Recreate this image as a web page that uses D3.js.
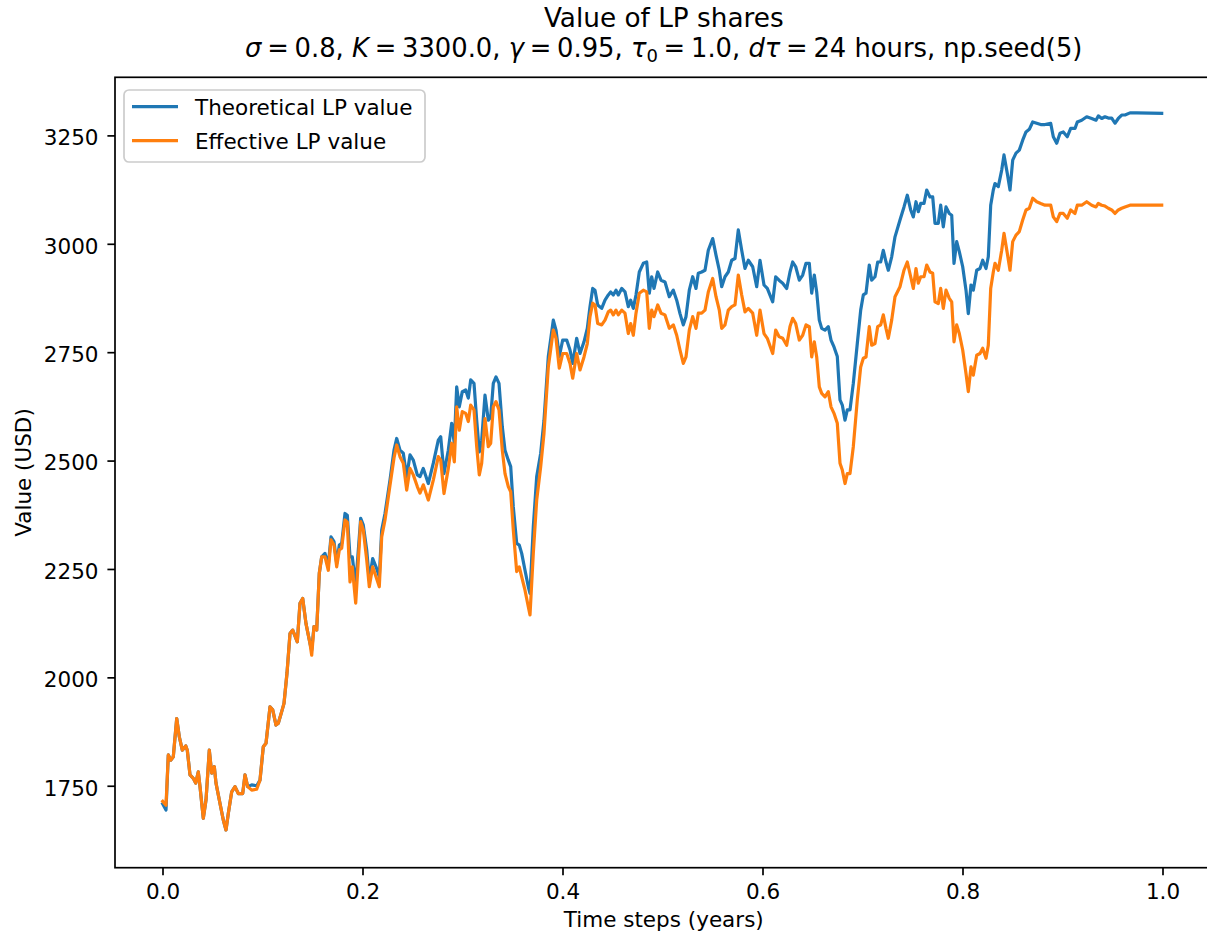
<!DOCTYPE html>
<html>
<head>
<meta charset="utf-8">
<script src="https://cdn.jsdelivr.net/npm/d3@7"></script>
<style>
  html, body { margin: 0; padding: 0; background: #fff; }
  svg { display: block; font-family: "DejaVu Sans", sans-serif; }
</style>
</head>
<body>
<svg id="chart" width="1207" height="936"></svg>
<script>
// ---- data ----
const timeYears = [
  0.0002,0.0035,0.0058,0.0082,0.0108,0.0142,0.0168,0.0198,0.0232,0.0248,
  0.0275,0.0308,0.0332,0.0358,0.0375,0.0408,0.0435,0.0468,0.0492,0.0518,
  0.0535,0.0575,0.0608,0.0635,0.0658,0.0692,0.0725,0.0758,0.0802,0.0825,
  0.0852,0.0892,0.0942,0.0975,0.1008,0.1035,0.1075,0.1102,0.1135,0.1158,
  0.1192,0.1215,0.1245,0.1275,0.1302,0.1348,0.1375,0.1402,0.1435,0.1475,
  0.1492,0.1515,0.1542,0.1568,0.1592,0.1625,0.1658,0.1685,0.1715,0.1742,
  0.1768,0.1792,0.1825,0.1848,0.1875,0.1898,0.1932,0.1982,0.2008,0.2042,
  0.2068,0.2102,0.2135,0.2168,0.2192,0.2225,0.2275,0.2315,0.2342,0.2375,
  0.2408,0.2442,0.2475,0.2508,0.2548,0.2575,0.2608,0.2658,0.2708,0.2758,
  0.2782,0.2815,0.2858,0.2892,0.2918,0.2942,0.2968,0.2998,0.3032,0.3058,
  0.3082,0.3115,0.3142,0.3168,0.3192,0.3225,0.3258,0.3282,0.3308,0.3335,
  0.3365,0.3398,0.3425,0.3458,0.3482,0.3508,0.3542,0.3568,0.3592,0.3625,
  0.3658,0.3675,0.3708,0.3742,0.3782,0.3815,0.3858,0.3908,0.3935,0.3968,
  0.4002,0.4042,0.4075,0.4102,0.4142,0.4175,0.4215,0.4248,0.4275,0.4302,
  0.4325,0.4352,0.4392,0.4425,0.4458,0.4482,0.4508,0.4535,0.4558,0.4592,
  0.4625,0.4658,0.4682,0.4708,0.4735,0.4768,0.4808,0.4842,0.4868,0.4892,
  0.4915,0.4952,0.4985,0.5025,0.5068,0.5108,0.5142,0.5175,0.5208,0.5235,
  0.5268,0.5302,0.5335,0.5358,0.5392,0.5425,0.5458,0.5502,0.5535,0.5568,
  0.5592,0.5625,0.5658,0.5692,0.5725,0.5758,0.5792,0.5825,0.5858,0.5902,
  0.5942,0.5975,0.6015,0.6048,0.6102,0.6132,0.6165,0.6202,0.6242,0.6275,
  0.6302,0.6332,0.6368,0.6402,0.6435,0.6468,0.6492,0.6518,0.6542,0.6568,
  0.6592,0.6625,0.6658,0.6685,0.6715,0.6748,0.6775,0.6798,0.6825,0.6848,
  0.6875,0.6908,0.6948,0.6982,0.7008,0.7035,0.7068,0.7092,0.7125,0.7152,
  0.7182,0.7208,0.7235,0.7258,0.7292,0.7325,0.7375,0.7415,0.7448,0.7482,
  0.7508,0.7535,0.7558,0.7582,0.7615,0.7642,0.7675,0.7702,0.7725,0.7758,
  0.7782,0.7808,0.7835,0.7868,0.7892,0.7915,0.7942,0.7968,0.8002,0.8035,
  0.8058,0.8085,0.8108,0.8142,0.8175,0.8202,0.8235,0.8258,0.8282,0.8308,
  0.8325,0.8358,0.8392,0.8415,0.8448,0.8475,0.8502,0.8535,0.8568,0.8602,
  0.8635,0.8668,0.8702,0.8742,0.8782,0.8825,0.8882,0.8908,0.8942,0.8975,
  0.9008,0.9048,0.9082,0.9125,0.9148,0.9192,0.9242,0.9292,0.9335,0.9358,
  0.9392,0.9425,0.9458,0.9492,0.9525,0.9558,0.9592,0.9625,0.9675,0.9742,
  0.9992
];

const theoreticalLP = [
  1708,1694,1821,1809,1817,1905,1863,1832,1842,1832,
  1775,1767,1756,1782,1748,1675,1717,1832,1779,1794,
  1756,1709,1671,1648,1686,1736,1748,1732,1732,1775,
  1748,1752,1750,1763,1840,1848,1932,1925,1890,1894,
  1921,1940,2010,2101,2109,2082,2171,2182,2124,2078,
  2063,2117,2109,2240,2278,2286,2259,2324,2313,2263,
  2305,2309,2378,2374,2278,2278,2213,2367,2351,2294,
  2224,2274,2255,2232,2340,2378,2455,2524,2551,2524,
  2517,2463,2513,2501,2467,2463,2482,2447,2494,2547,
  2555,2470,2524,2586,2540,2670,2624,2659,2663,2644,
  2686,2678,2593,2520,2547,2651,2593,2600,2678,2693,
  2678,2578,2524,2501,2486,2393,2309,2305,2286,2247,
  2209,2194,2347,2463,2517,2593,2740,2824,2801,2740,
  2778,2778,2755,2724,2782,2747,2774,2805,2855,2897,
  2893,2859,2851,2870,2882,2889,2882,2893,2882,2897,
  2889,2855,2870,2851,2882,2935,2955,2958,2886,2924,
  2897,2935,2916,2912,2878,2893,2870,2839,2813,2832,
  2893,2924,2897,2932,2935,2939,2985,3012,2974,2939,
  2901,2924,2935,2962,2966,3032,2985,2943,2962,2947,
  2901,2962,2905,2897,2866,2924,2916,2909,2897,2935,
  2958,2947,2916,2928,2955,2955,2886,2928,2889,2824,
  2805,2801,2809,2778,2762,2740,2640,2628,2593,2617,
  2617,2678,2770,2847,2882,2886,2951,2916,2924,2958,
  2958,2985,2958,2939,2970,3016,3055,3085,3112,3078,
  3062,3097,3074,3093,3093,3124,3108,3108,3047,3047,
  3089,3039,3085,3070,3066,2955,3005,2982,2947,2893,
  2839,2905,2893,2939,2943,2962,2943,2970,3089,3124,
  3139,3132,3170,3205,3162,3124,3193,3209,3216,3239,
  3258,3264,3281,3278,3275,3275,3278,3247,3232,3255,
  3258,3247,3266,3266,3281,3285,3293,3289,3285,3295,
  3289,3293,3290,3290,3278,3289,3297,3297,3302,3302,
  3301
];

const effectiveLP = [
  1714,1705,1821,1809,1817,1905,1863,1832,1842,1832,
  1775,1767,1756,1782,1748,1675,1717,1832,1779,1794,
  1756,1709,1671,1648,1686,1736,1748,1732,1732,1775,
  1748,1740,1742,1763,1840,1848,1932,1925,1890,1894,
  1921,1940,2010,2101,2109,2082,2171,2182,2124,2078,
  2051,2117,2109,2240,2278,2278,2247,2317,2305,2255,
  2294,2298,2363,2358,2220,2255,2171,2359,2340,2271,
  2209,2255,2232,2209,2324,2363,2443,2506,2536,2509,
  2494,2432,2482,2467,2440,2425,2444,2409,2455,2509,
  2501,2424,2482,2540,2497,2624,2570,2613,2609,2590,
  2628,2617,2532,2467,2494,2597,2532,2540,2624,2636,
  2617,2524,2470,2440,2428,2340,2244,2255,2232,2201,
  2163,2144,2286,2409,2486,2563,2716,2801,2782,2713,
  2747,2747,2724,2690,2747,2709,2739,2770,2832,2863,
  2859,2816,2813,2824,2843,2847,2836,2847,2836,2847,
  2840,2793,2816,2789,2840,2886,2893,2889,2805,2847,
  2832,2859,2840,2836,2805,2813,2789,2755,2724,2739,
  2801,2832,2805,2840,2840,2847,2889,2920,2878,2847,
  2805,2813,2847,2855,2859,2928,2882,2843,2851,2840,
  2789,2847,2793,2782,2747,2801,2786,2782,2766,2809,
  2828,2816,2778,2789,2813,2809,2739,2774,2739,2670,
  2655,2647,2659,2624,2609,2586,2494,2478,2447,2470,
  2470,2532,2640,2716,2736,2739,2809,2766,2770,2809,
  2813,2836,2805,2782,2824,2878,2901,2939,2958,2924,
  2897,2943,2909,2924,2924,2951,2935,2932,2866,2862,
  2897,2851,2893,2874,2866,2774,2813,2793,2755,2701,
  2659,2716,2697,2743,2747,2759,2736,2766,2897,2935,
  2955,2939,2985,3024,2978,2939,3005,3020,3028,3055,
  3078,3082,3105,3097,3093,3089,3089,3062,3051,3070,
  3070,3059,3078,3070,3089,3089,3097,3089,3085,3093,
  3089,3087,3082,3078,3070,3078,3082,3085,3089,3089,
  3089
];

const seriesNames = ["Theoretical LP value", "Effective LP value"];
const seriesColors = ["#1f77b4", "#ff7f0e"];
const xTicks = [0.0, 0.2, 0.4, 0.6, 0.8, 1.0];
const yTicks = [1750, 2000, 2250, 2500, 2750, 3000, 3250];
const xLimits = [-0.0475, 1.05];
const yLimits = [1561, 3384];

// ---- layout ----
const svg = d3.select("#chart");
const plot = { left: 115, right: 1212.5, top: 77.3, bottom: 867.7 };
const FS = 21.5;

const x = d3.scaleLinear().domain(xLimits).range([plot.left, plot.right]);
const y = d3.scaleLinear().domain(yLimits).range([plot.bottom, plot.top]);

svg.append("rect").attr("width", 1207).attr("height", 936).attr("fill", "#fff");

// lines
const series = [theoreticalLP, effectiveLP];
const line = d3.line().x(d => x(d[0])).y(d => y(d[1]));
series.forEach((vals, i) => {
  const pts = timeYears.map((t, j) => [t, vals[j]]);
  svg.append("path")
    .datum(pts)
    .attr("d", line)
    .attr("fill", "none")
    .attr("stroke", seriesColors[i])
    .attr("stroke-width", 3.2)
    .attr("stroke-linejoin", "round")
    .attr("stroke-linecap", "square");
});

// axes
const xAxis = d3.axisBottom(x).tickValues(xTicks).tickFormat(d3.format(".1f"))
  .tickSize(7.6).tickSizeOuter(0).tickPadding(7.6);
const gx = svg.append("g").attr("transform", `translate(0,${plot.bottom})`).call(xAxis);
gx.select(".domain").remove();
gx.selectAll(".tick line").attr("stroke", "#000").attr("stroke-width", 1.7);
gx.selectAll(".tick text").attr("font-size", FS).attr("font-family", "DejaVu Sans")
  .attr("fill", "#000").attr("dy", null).attr("y", 31.5);

const yAxis = d3.axisLeft(y).tickValues(yTicks).tickFormat(d3.format("d"))
  .tickSize(7.6).tickSizeOuter(0).tickPadding(7.6);
const gy = svg.append("g").attr("transform", `translate(${plot.left},0)`).call(yAxis);
gy.select(".domain").remove();
gy.selectAll(".tick line").attr("stroke", "#000").attr("stroke-width", 1.7);
gy.selectAll(".tick text").attr("font-size", FS).attr("font-family", "DejaVu Sans")
  .attr("fill", "#000").attr("dy", null).attr("y", 9.3).attr("x", -16.5);

// frame (spines)
svg.append("rect")
  .attr("x", plot.left).attr("y", plot.top)
  .attr("width", plot.right - plot.left).attr("height", plot.bottom - plot.top)
  .attr("fill", "none").attr("stroke", "#000").attr("stroke-width", 1.7);

// axis labels
svg.append("text")
  .attr("x", (plot.left + plot.right) / 2).attr("y", 927)
  .attr("text-anchor", "middle").attr("font-size", FS).attr("fill", "#000")
  .text("Time steps (years)");
svg.append("text")
  .attr("transform", `translate(31,${(plot.top + plot.bottom) / 2}) rotate(-90)`)
  .attr("text-anchor", "middle").attr("font-size", FS).attr("fill", "#000")
  .text("Value (USD)");

// title
const cx = (plot.left + plot.right) / 2;
svg.append("text")
  .attr("x", cx).attr("y", 27).attr("text-anchor", "middle")
  .attr("font-size", 26.3).attr("fill", "#000")
  .text("Value of LP shares");
const t2 = svg.append("text")
  .attr("x", cx).attr("y", 57).attr("text-anchor", "middle")
  .attr("font-size", 25.8).attr("fill", "#000");
// [text, style]: "i" italic, "n" normal, "s" narrow math space, "sub" subscript, "up" back to baseline
const parts = [
  ["σ", "i"], [" ", "s"], ["=", "n"], [" ", "s"], ["0.8, ", "n"],
  ["K", "i"], [" ", "s"], ["=", "n"], [" ", "s"], ["3300.0, ", "n"],
  ["γ", "i"], [" ", "s"], ["=", "n"], [" ", "s"], ["0.95, ", "n"],
  ["τ", "i"], ["0", "sub"], [" ", "s-up"], ["=", "n"], [" ", "s"], ["1.0, ", "n"],
  ["dτ", "i"], [" ", "s"], ["=", "n"], [" ", "s"], ["24 hours, np.seed(5)", "n"]
];
parts.forEach(([s, st]) => {
  const ts = t2.append("tspan").text(s);
  if (st === "i") ts.attr("font-style", "italic");
  if (st === "s") ts.attr("font-size", 18);
  if (st === "sub") ts.attr("font-size", 18).attr("dy", 4.5);
  if (st === "s-up") ts.attr("font-size", 18).attr("dy", -4.5);
});

// legend
const lg = svg.append("g");
lg.append("rect")
  .attr("x", 124).attr("y", 90).attr("width", 301).attr("height", 72)
  .attr("rx", 5).attr("ry", 5)
  .attr("fill", "rgba(255,255,255,0.8)").attr("stroke", "#cccccc").attr("stroke-width", 1.7);
seriesNames.forEach((name, i) => {
  const ly = 106.7 + i * 34;
  lg.append("line").attr("x1", 132).attr("x2", 178).attr("y1", ly).attr("y2", ly)
    .attr("stroke", seriesColors[i]).attr("stroke-width", 3.2);
  lg.append("text").attr("x", 195).attr("y", ly + 7.8)
    .attr("font-size", FS).attr("fill", "#000").text(name);
});
</script>
</body>
</html>
